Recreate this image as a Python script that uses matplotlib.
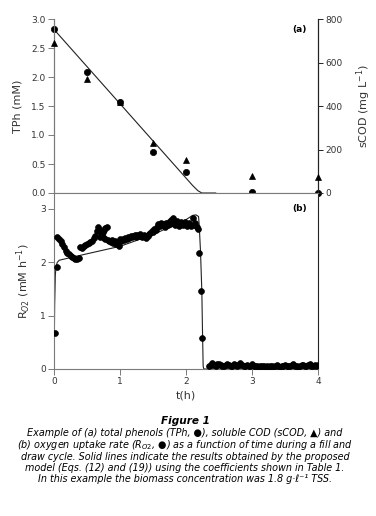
import matplotlib
matplotlib.use("Agg")
import matplotlib.pyplot as plt

# (a) total phenols (left axis) and soluble COD (right axis)
t_a = [0.0, 0.5, 1.0, 1.5, 2.0, 3.0, 4.0]
tph = [2.82, 2.08, 1.57, 0.70, 0.36, 0.02, 0.0]
scod = [690, 525, 420, 228, 150, 76, 72]
t_tph_model = [0.0, 2.10, 2.18, 2.24, 2.45]
tph_model = [2.82, 0.13, 0.04, 0.0, 0.0]

# (b) oxygen uptake rate
t_r1 = [0.02, 0.04, 0.05, 0.075, 0.10, 0.125, 0.15, 0.175, 0.20, 0.225,
        0.25, 0.275, 0.30, 0.325, 0.35, 0.375, 0.39, 0.425, 0.45, 0.475,
        0.50, 0.525, 0.55, 0.575, 0.60, 0.625, 0.65, 0.67, 0.69, 0.71,
        0.73, 0.75, 0.77, 0.70, 0.72, 0.74, 0.76, 0.78, 0.80, 0.82,
        0.84, 0.86, 0.88, 0.90, 0.92, 0.94, 0.96, 0.98, 1.00, 1.02,
        1.04, 1.06, 1.08, 1.10, 1.12, 1.14, 1.16, 1.18, 1.20, 1.22,
        1.24, 1.26, 1.28, 1.30, 1.32, 1.34, 1.36, 1.38, 1.40, 1.42,
        1.44, 1.46, 1.48, 1.50, 1.52, 1.54, 1.56, 1.58, 1.60, 1.62,
        1.64, 1.66, 1.68, 1.70, 1.72, 1.74, 1.76, 1.78, 1.80, 1.82,
        1.84, 1.86, 1.88, 1.90, 1.92, 1.94, 1.96, 1.98, 2.00, 2.02,
        2.04, 2.06, 2.08, 2.10, 2.12, 2.14, 2.16, 2.18, 2.20, 2.22,
        2.24]
r1 = [0.67, 1.92, 2.47, 2.44, 2.40, 2.34, 2.28, 2.22, 2.18, 2.15,
      2.12, 2.10, 2.08, 2.06, 2.07, 2.09, 2.28, 2.26, 2.30, 2.32,
      2.34, 2.36, 2.38, 2.40, 2.46, 2.50, 2.58, 2.66, 2.60, 2.55,
      2.50, 2.46, 2.43, 2.48, 2.52, 2.56, 2.60, 2.64, 2.67, 2.42,
      2.40, 2.38, 2.42, 2.36, 2.40, 2.34, 2.38, 2.31, 2.44, 2.40,
      2.44, 2.42, 2.46, 2.44, 2.48, 2.45, 2.49, 2.47, 2.50, 2.52,
      2.48, 2.51, 2.49, 2.53, 2.50, 2.47, 2.52, 2.49, 2.46, 2.50,
      2.53, 2.55, 2.58, 2.57, 2.62, 2.60, 2.66, 2.72, 2.68, 2.74,
      2.70, 2.72, 2.66, 2.74, 2.70, 2.76, 2.72, 2.80, 2.84, 2.76,
      2.70, 2.78, 2.74, 2.68, 2.76, 2.72, 2.70, 2.76, 2.72, 2.68,
      2.74, 2.70, 2.68, 2.84, 2.70, 2.74, 2.66, 2.62, 2.17, 1.46,
      0.59]
t_r2 = [2.35, 2.375, 2.40, 2.425, 2.45, 2.475, 2.50, 2.525, 2.55, 2.575,
        2.60, 2.625, 2.65, 2.675, 2.70, 2.725, 2.75, 2.775, 2.80, 2.825,
        2.85, 2.875, 2.90, 2.925, 2.95, 2.975, 3.00, 3.025, 3.05, 3.075,
        3.10, 3.125, 3.15, 3.175, 3.20, 3.225, 3.25, 3.275, 3.30, 3.325,
        3.35, 3.375, 3.40, 3.425, 3.45, 3.475, 3.50, 3.525, 3.55, 3.575,
        3.60, 3.625, 3.65, 3.675, 3.70, 3.725, 3.75, 3.775, 3.80, 3.825,
        3.85, 3.875, 3.90, 3.925, 3.95, 3.975, 4.00]
r2 = [0.05, 0.08, 0.11, 0.07, 0.06, 0.09, 0.10, 0.07, 0.05, 0.06,
      0.08, 0.10, 0.07, 0.05, 0.06, 0.09, 0.08, 0.06, 0.08, 0.11,
      0.07, 0.06, 0.05, 0.07, 0.06, 0.05, 0.09, 0.06, 0.05, 0.06,
      0.04, 0.05, 0.06, 0.05, 0.03, 0.05, 0.04, 0.06, 0.05, 0.04,
      0.05, 0.07, 0.05, 0.04, 0.06, 0.05, 0.07, 0.06, 0.05, 0.06,
      0.07, 0.09, 0.06, 0.05, 0.04, 0.06, 0.08, 0.07, 0.05, 0.06,
      0.08, 0.09, 0.06, 0.05, 0.07, 0.06, 0.07]
t_r_model = [0.0, 0.01, 0.02, 0.03, 0.05, 0.08, 0.5, 1.0, 1.5, 2.0,
             2.1, 2.15, 2.19, 2.20, 2.22, 2.24, 2.25, 2.26, 2.27, 4.0]
r_model = [0.0, 1.2, 1.75, 1.92, 2.0, 2.04, 2.16, 2.30, 2.52, 2.80,
           2.88, 2.89, 2.86, 2.70, 2.20, 1.45, 0.70, 0.05, 0.0, 0.0]

caption_title = "Figure 1"
caption_lines = [
    "Example of (a) total phenols (TPh, \u25CF), soluble COD (sCOD, \u25B2) and",
    "(b) oxygen uptake rate ($R_{O2}$, \u25CF) as a function of time during a fill and",
    "draw cycle. Solid lines indicate the results obtained by the proposed",
    "model (Eqs. (12) and (19)) using the coefficients shown in Table 1.",
    "In this example the biomass concentration was 1.8 g\u00B7\u2113\u207B\u00B9 TSS.",
]

plt.rcParams['font.family'] = ['DejaVu Sans']
plt.rcParams['axes.linewidth'] = 0.8
text_col = '#333333'
axis_col = '#7a7a7a'

fig = plt.figure(figsize=(3.76, 5.16), dpi=100)
ax_a = fig.add_axes([54/376, 1 - 193/516, 264/376, 174/516])
ax_b = fig.add_axes([54/376, 1 - 369/516, 264/376, 176/516])
ax_c = ax_a.twinx()

# panel (a)
ax_a.plot(t_tph_model, tph_model, color='#222222', lw=0.8)
ax_a.plot(t_a, tph, 'o', color='black', ms=4.5, mew=0.5, clip_on=False, zorder=5)
ax_c.plot(t_a, scod, '^', color='black', ms=4.5, mew=0.5, clip_on=False, zorder=5)
ax_a.set_xlim(0, 4)
ax_a.set_ylim(0, 3.0)
ax_c.set_ylim(0, 800)
ax_a.set_yticks([0, 0.5, 1.0, 1.5, 2.0, 2.5, 3.0])
ax_a.set_yticklabels(['0.0', '0.5', '1.0', '1.5', '2.0', '2.5', '3.0'])
ax_c.set_yticks([0, 200, 400, 600, 800])
ax_a.set_xticks([0, 1, 2, 3, 4])
ax_a.tick_params(axis='x', labelbottom=False)

for ax in (ax_a, ax_b, ax_c):
    ax.spines['top'].set_visible(False)
    ax.spines['left'].set_color(axis_col)
    ax.spines['bottom'].set_color(axis_col)
    ax.spines['right'].set_color('#222222')
    ax.tick_params(direction='out', length=4, width=0.7, labelsize=6.5,
                   labelcolor=text_col, color=axis_col, pad=2)
ax_c.tick_params(color='#222222', length=3.5)

ax_a.set_ylabel('TPh (mM)', fontsize=8, color=text_col, labelpad=6)
ax_c.set_ylabel('sCOD (mg L$^{-1}$)', fontsize=8, color=text_col,
                rotation=90, labelpad=8)
ax_a.text(0.93, 0.94, '(a)', transform=ax_a.transAxes, fontsize=6.5,
          fontweight='bold', ha='center', va='center')

# panel (b)
ax_b.plot(t_r_model, r_model, color='#222222', lw=0.8)
ax_b.plot(t_r1, r1, 'o', color='black', ms=4.2, mew=0.5, zorder=5)
ax_b.plot(t_r2, r2, 'o', color='black', ms=4.2, mew=0.5, zorder=5)
ax_b.set_xlim(0, 4)
ax_b.set_ylim(0, 3.3)
ax_b.set_yticks([0, 1, 2, 3])
ax_b.set_xticks([0, 1, 2, 3, 4])
ax_b.set_xlabel('t(h)', fontsize=8, color=text_col, labelpad=3)
ax_b.set_ylabel('R$_{O2}$ (mM h$^{-1}$)', fontsize=8, color=text_col,
                labelpad=5)
ax_b.text(0.93, 0.91, '(b)', transform=ax_b.transAxes, fontsize=6.5,
          fontweight='bold', ha='center', va='center')

# caption
fig.text(185/376, 1 - 421/516, caption_title, ha='center', va='center',
         fontsize=7.6, fontweight='bold', fontstyle='italic')
for i, line in enumerate(caption_lines):
    fig.text(185/376, 1 - (433.5 + 11.5*i)/516, line, ha='center',
             va='center', fontsize=6.9, fontstyle='italic')

fig.savefig('out.png', dpi=100)
